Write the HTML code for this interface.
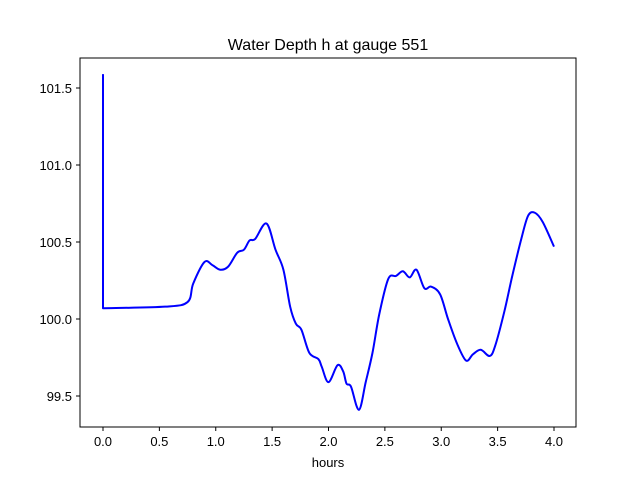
<!DOCTYPE html>
<html><head><meta charset="utf-8"><style>
body{margin:0;background:#fff;}
svg{display:block;font-family:"Liberation Sans","DejaVu Sans",sans-serif;}
</style></head><body>
<svg id="chart" width="640" height="480">
<rect width="640" height="480" fill="#fff"/>
<text x="328" y="50" text-anchor="middle" font-size="16">Water Depth h at gauge 551</text>
<g id="plot"></g>
<rect x="80" y="58" width="496" height="369" fill="none" stroke="#000" stroke-width="1"/>
<text x="328" y="467" text-anchor="middle" font-size="13">hours</text>
</svg>
<script>
const times=[0,0,0.55,0.75,0.8,0.9,0.97,1.04,1.11,1.19,1.25,1.30,1.35,1.45,1.53,1.6,1.66,1.71,1.76,1.83,1.91,1.94,2.0,2.08,2.13,2.16,2.2,2.27,2.33,2.39,2.45,2.53,2.6,2.66,2.72,2.78,2.85,2.91,2.99,3.06,3.14,3.22,3.28,3.35,3.43,3.48,3.56,3.63,3.71,3.77,3.83,3.9,4.0];
const depth=[101.59,100.07,100.08,100.11,100.23,100.37,100.35,100.32,100.34,100.43,100.45,100.51,100.52,100.62,100.45,100.32,100.08,99.97,99.93,99.78,99.74,99.69,99.59,99.7,99.66,99.58,99.56,99.41,99.59,99.78,100.03,100.26,100.28,100.31,100.27,100.32,100.2,100.21,100.16,100.0,99.84,99.73,99.77,99.8,99.76,99.83,100.05,100.28,100.52,100.67,100.69,100.63,100.47];
const xTicks=[0,0.5,1,1.5,2,2.5,3,3.5,4];
const xTickLabels=["0.0","0.5","1.0","1.5","2.0","2.5","3.0","3.5","4.0"];
const yTicks=[99.5,100,100.5,101,101.5];
const yTickLabels=["99.5","100.0","100.5","101.0","101.5"];
const NS="http://www.w3.org/2000/svg";
const xs=v=>103+(v-0)*112.75;
const ys=v=>396-(v-99.5)*154;
const g=document.getElementById('plot');
function mk(t,a){const e=document.createElementNS(NS,t);for(const k in a)e.setAttribute(k,a[k]);return e;}
xTicks.forEach((t,i)=>{
  const x=xs(t);
  const l=mk('line',{x1:x,x2:x,y1:427,y2:431,stroke:'#000'});
  
  
  g.appendChild(l);
  const tx=mk('text',{x:x,y:446,'text-anchor':'middle','font-size':13});
  
  
  tx.textContent=xTickLabels[i];g.appendChild(tx);
});
yTicks.forEach((t,i)=>{
  const y=ys(t);
  const l=mk('line',{x1:76,x2:80,y1:y,y2:y,stroke:'#000'});
  
  
  g.appendChild(l);
  const tx=mk('text',{x:72,y:y+5,'text-anchor':'end','font-size':13});
  
  
  tx.textContent=yTickLabels[i];g.appendChild(tx);
});
const pts=times.map((t,i)=>[xs(t),ys(depth[i])]);
let d='M'+pts[0][0]+','+pts[0][1]+' L'+pts[1][0]+','+pts[1][1];
for(let i=1;i<pts.length-1;i++){
  const p0=pts[Math.max(i-1,1)],p1=pts[i],p2=pts[i+1],p3=pts[Math.min(i+2,pts.length-1)];
  const c1=[p1[0]+(p2[0]-p0[0])/6,p1[1]+(p2[1]-p0[1])/6];
  const c2=[p2[0]-(p3[0]-p1[0])/6,p2[1]-(p3[1]-p1[1])/6];
  d+=' C'+c1+' '+c2+' '+p2;
}
const path=mk('path',{d:d,fill:'none',stroke:'#0000ff','stroke-width':2,'stroke-linejoin':'round'});


g.appendChild(path);
</script>
</body></html>
